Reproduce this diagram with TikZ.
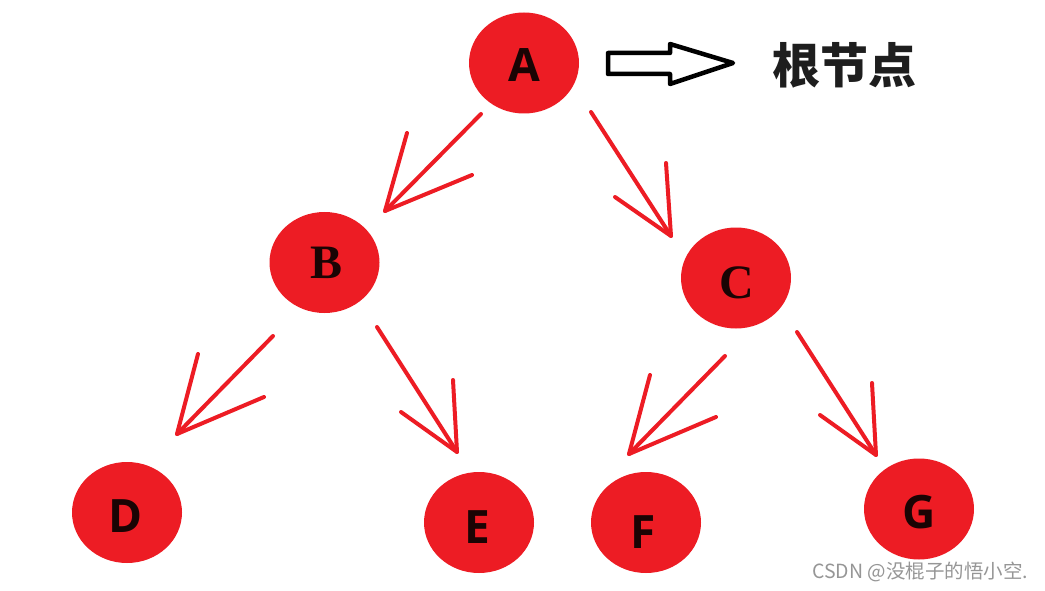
\documentclass[tikz,border=0pt]{standalone}
\usepackage{fontspec}
\usetikzlibrary{shapes.geometric}
\newfontfamily\cjk{Noto Sans CJK SC}
\newfontfamily\lettersans{Open Sans}
\newfontfamily\letterserif{Liberation Serif}
\definecolor{nodered}{RGB}{237,28,36}
\definecolor{letterink}{RGB}{26,4,4}
\definecolor{titleink}{RGB}{30,30,30}
\definecolor{markgray}{RGB}{150,150,150}
\begin{document}
\begin{tikzpicture}[x=1pt,y=-1pt,
  nd/.style={ellipse, fill=nodered, draw=none, minimum width=110pt, minimum height=101pt, inner sep=0pt},
  sanslab/.style={font=\lettersans\bfseries\fontsize{46}{46}\selectfont, text=letterink, inner sep=0pt},
  seriflab/.style={font=\letterserif\bfseries\fontsize{48}{48}\selectfont, text=letterink, inner sep=0pt},
  redline/.style={draw=nodered, line width=4pt, line cap=round, line join=round},
  blockarrow/.style={draw=black, fill=white, line width=4.5pt, line join=round}]
\useasboundingbox[fill=white] (0,0) rectangle (1045,591);

% nodes
\node[nd, label={[sanslab, yshift=-2pt]center:A}] (A) at (524,63) {};
\node[nd, label={[seriflab, xshift=2pt]center:B}] (B) at (324.5,262.5) {};
\node[nd, label={[seriflab, xshift=1pt, yshift=-5pt]center:C}] (C) at (736,278) {};
\node[nd, label={[sanslab, xshift=-1pt, yshift=-4pt]center:D}] (D) at (127,512.5) {};
\node[nd, label={[sanslab, xshift=-2pt, yshift=-5pt]center:E}] (E) at (479,522.5) {};
\node[nd, label={[sanslab, xshift=-3pt, yshift=-9.5pt]center:F}] (F) at (646,522.5) {};
\node[nd, label={[sanslab, yshift=-3pt]center:G}] (G) at (919,509) {};

% arrow A -> B
\coordinate (ABs) at (481,114); \coordinate (ABt) at (385,211);
\coordinate (ABl) at (407,133); \coordinate (ABr) at (472,175);
\draw[redline] (ABs) -- (ABt);
\draw[redline] (ABl) -- (ABt) -- (ABr);
% arrow A -> C
\coordinate (ACs) at (591,112); \coordinate (ACt) at (671,236);
\coordinate (ACl) at (615,197); \coordinate (ACr) at (666,163);
\draw[redline] (ACs) -- (ACt);
\draw[redline] (ACl) -- (ACt) -- (ACr);
% arrow B -> D
\coordinate (BDs) at (273,336); \coordinate (BDt) at (177,434);
\coordinate (BDl) at (198,354); \coordinate (BDr) at (264,397);
\draw[redline] (BDs) -- (BDt);
\draw[redline] (BDl) -- (BDt) -- (BDr);
% arrow B -> E
\coordinate (BEs) at (377,327); \coordinate (BEt) at (457,452);
\coordinate (BEl) at (401,412); \coordinate (BEr) at (453,380);
\draw[redline] (BEs) -- (BEt);
\draw[redline] (BEl) -- (BEt) -- (BEr);
% arrow C -> F
\coordinate (CFs) at (725,356); \coordinate (CFt) at (629,454);
\coordinate (CFl) at (650,375); \coordinate (CFr) at (716,417);
\draw[redline] (CFs) -- (CFt);
\draw[redline] (CFl) -- (CFt) -- (CFr);
% arrow C -> G
\coordinate (CGs) at (797,332); \coordinate (CGt) at (876,455);
\coordinate (CGl) at (820,415); \coordinate (CGr) at (872,383);
\draw[redline] (CGs) -- (CGt);
\draw[redline] (CGl) -- (CGt) -- (CGr);

% block arrow to root label
\draw[blockarrow] (608,53) -- (670,53) -- (670,44) -- (733,63) -- (670,84) -- (670,74) -- (608,74) -- cycle;
\node[font=\cjk\bfseries\fontsize{48}{48}\selectfont, text=titleink, inner sep=0pt] (root) at (844,65) {根节点};

% watermark
\node[anchor=west, font=\cjk\fontsize{19.5}{19.5}\selectfont, text=markgray, inner sep=0pt] (mark) at (812,572) {CSDN @没棍子的悟小空.};
\end{tikzpicture}
\end{document}
